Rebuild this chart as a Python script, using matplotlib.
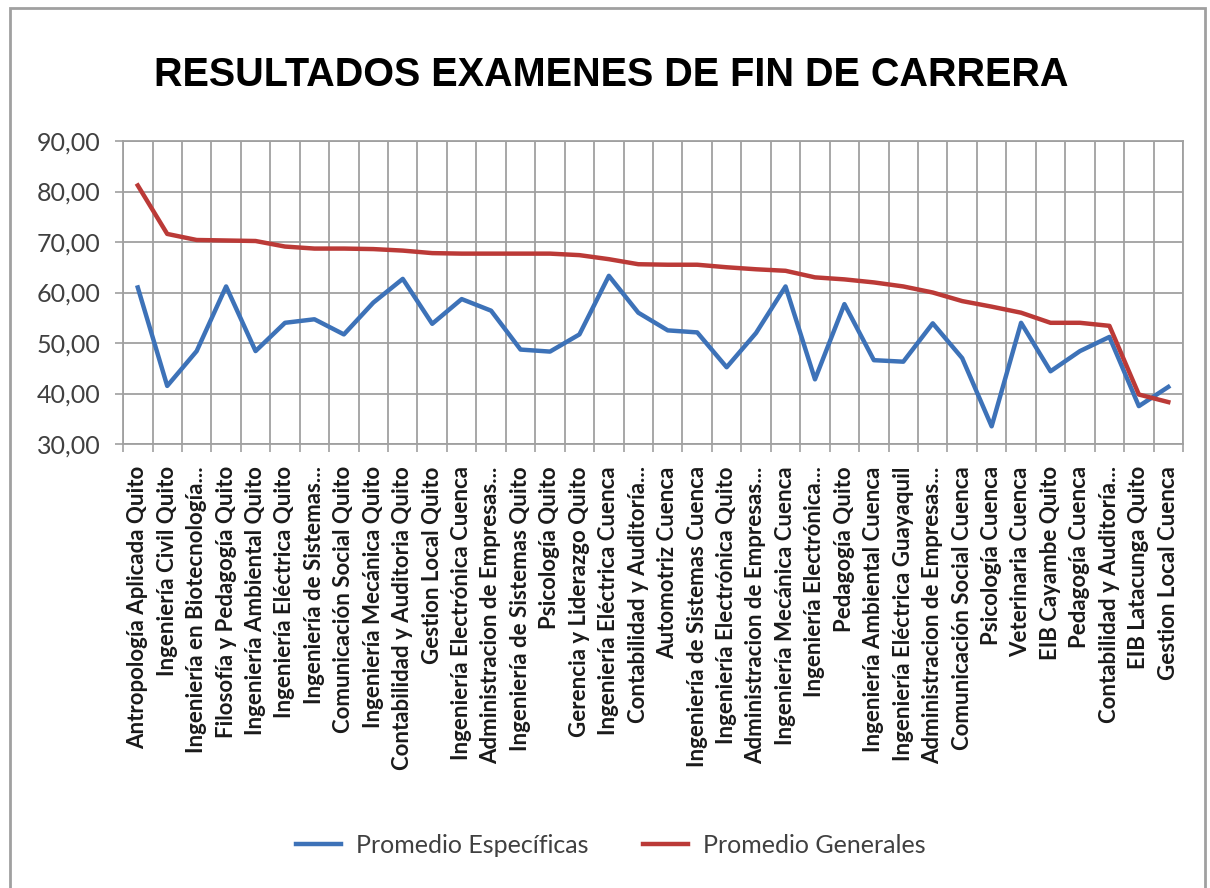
import numpy as np
import matplotlib
matplotlib.use("Agg")
import matplotlib.pyplot as plt
from matplotlib.patches import Rectangle

# Datos
carreras = [
    "Antropología Aplicada Quito", "Ingeniería Civil Quito", "Ingeniería en Biotecnología...",
    "Filosofía y Pedagogía Quito", "Ingeniería Ambiental Quito", "Ingeniería Eléctrica Quito",
    "Ingeniería de Sistemas...", "Comunicación Social Quito", "Ingeniería Mecánica Quito",
    "Contabilidad y Auditoria Quito", "Gestion Local Quito", "Ingeniería Electrónica Cuenca",
    "Administracion de Empresas...", "Ingeniería de Sistemas Quito", "Psicología Quito",
    "Gerencia y Liderazgo Quito", "Ingeniería Eléctrica Cuenca", "Contabilidad y Auditoría...",
    "Automotriz Cuenca", "Ingeniería de Sistemas Cuenca", "Ingeniería Electrónica Quito",
    "Administracion de Empresas...", "Ingeniería Mecánica Cuenca", "Ingeniería Electrónica...",
    "Pedagogía Quito", "Ingeniería Ambiental Cuenca", "Ingeniería Eléctrica Guayaquil",
    "Administracion de Empresas...", "Comunicación Social Cuenca", "Psicología Cuenca",
    "Veterinaria Cuenca", "EIB Cayambe Quito", "Pedagogía Cuenca",
    "Contabilidad y Auditoría...", "EIB Latacunga Quito", "Gestion Local Cuenca",
]

promedio_especificas = [
    61.0, 41.5, 48.4, 61.2, 48.4, 54.0, 54.7, 51.7, 58.0, 62.7,
    53.8, 58.7, 56.4, 48.7, 48.3, 51.7, 63.3, 56.0, 52.5, 52.1,
    45.2, 52.0, 61.2, 42.8, 57.7, 46.6, 46.3, 53.9, 47.0, 33.5,
    54.0, 44.4, 48.4, 51.2, 37.5, 41.3,
]

promedio_generales = [
    81.2, 71.6, 70.4, 70.3, 70.2, 69.1, 68.7, 68.7, 68.6, 68.3,
    67.8, 67.7, 67.7, 67.7, 67.7, 67.4, 66.6, 65.6, 65.5, 65.5,
    65.0, 64.6, 64.3, 63.0, 62.6, 62.0, 61.2, 60.0, 58.3, 57.2,
    56.0, 54.0, 54.0, 53.4, 39.8, 38.3,
]

yticks = [30, 40, 50, 60, 70, 80, 90]

plt.rcParams['font.family'] = ['Lato', 'DejaVu Sans']

fig = plt.figure(figsize=(12.1, 8.88), dpi=100)
ax = fig.add_axes([0.1017, 0.5, 0.876, 0.3412])

x = np.arange(len(carreras))
ax.plot(x, promedio_especificas, color='#3D72B8', lw=3.2, label='Promedio Específicas')
ax.plot(x, promedio_generales, color='#BB3A37', lw=3.2, label='Promedio Generales')

ax.set_xlim(-0.5, len(carreras) - 0.5)
ax.set_ylim(30, 90)
ax.set_yticks(yticks)
ax.yaxis.set_major_formatter(matplotlib.ticker.FuncFormatter(lambda v, p: ("%.2f" % v).replace('.', ',')))
ax.set_xticks(x)
ax.set_xticklabels(carreras, rotation=90, fontsize=16, fontweight='bold', color='#1a1a1a', va='top')
ax.set_xticks(np.arange(-0.5, len(carreras)), minor=True)

ax.tick_params(axis='x', which='major', length=0, pad=16)
ax.tick_params(axis='x', which='minor', length=6, color='#A0A0A0', width=1.2)
ax.tick_params(axis='y', length=6, color='#A0A0A0', width=1.2, pad=10, labelsize=18, labelcolor='#404040')

ax.grid(True, axis='y', which='major', color='#A0A0A0', lw=1.3)
ax.grid(True, axis='x', which='minor', color='#A0A0A0', lw=1.3)
ax.set_axisbelow(True)
for s in ax.spines.values():
  s.set_color('#A0A0A0')
  s.set_linewidth(1.3)

fig.text(0.505, 0.915, "RESULTADOS EXAMENES DE FIN DE CARRERA", ha='center', va='center',
         fontsize=28.5, fontweight='bold', family=['Liberation Sans', 'DejaVu Sans'])

leg = fig.legend(loc='center', bbox_to_anchor=(0.505, 0.048), ncol=2, frameon=False,
                 fontsize=18, handlelength=1.8, columnspacing=2.2, handletextpad=0.6)
for t in leg.get_texts():
  t.set_color('#404040')

# Marco exterior del grafico
fig.patches.append(Rectangle((10 / 1210, -0.01), 1195 / 1210, 0.9999 - 8 / 888 + 0.01,
                             transform=fig.transFigure, fill=False, edgecolor='#A0A0A0', lw=2))

fig.savefig("out.png", dpi=100)
